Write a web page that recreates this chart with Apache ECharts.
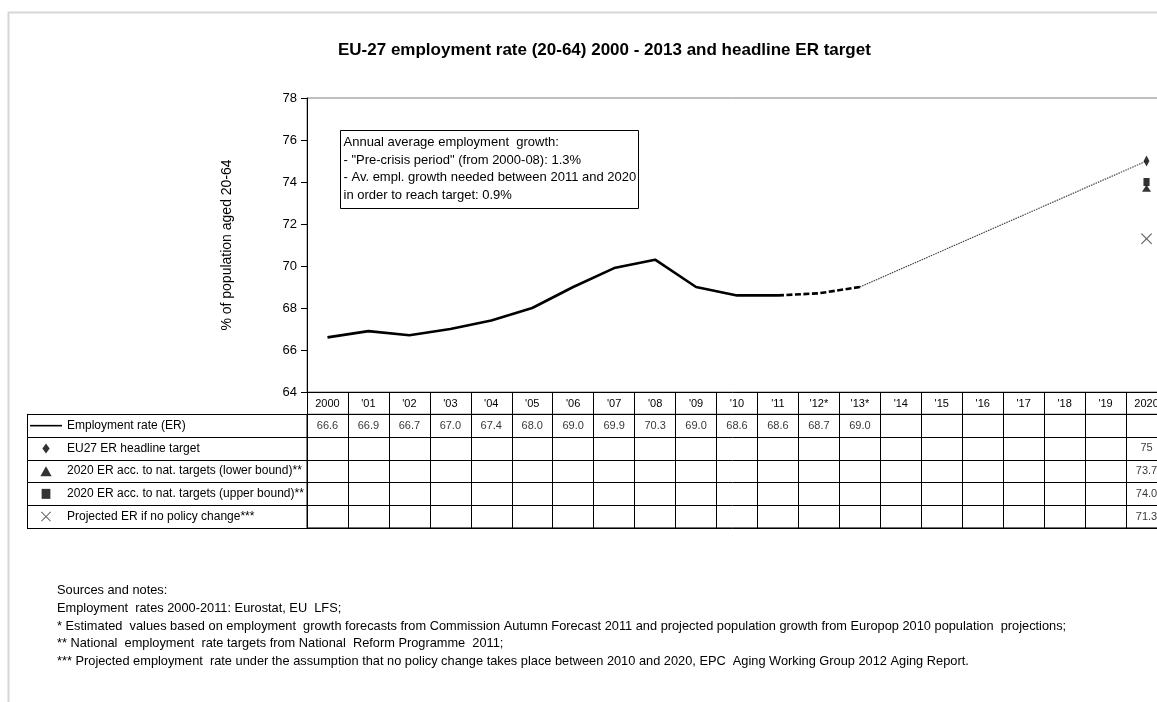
<!DOCTYPE html>
<html>
<head>
<meta charset="utf-8">
<script src="https://cdn.jsdelivr.net/npm/echarts@6/dist/echarts.min.js"></script>
<style>
  html, body { margin: 0; padding: 0; background: #fff; }
  #chart { width: 1157px; height: 702px; }
</style>
</head>
<body>
<div id="chart"></div>
<script>
// Year columns of the chart and of the data table
const years = ['2000', "'01", "'02", "'03", "'04", "'05", "'06", "'07", "'08", "'09", "'10",
               "'11", "'12*", "'13*", "'14", "'15", "'16", "'17", "'18", "'19", '2020'];

// Employment rate (20-64), 2000 to 2013 ('12 and '13 estimated)
const erValues = [66.6, 66.9, 66.7, 67.0, 67.4, 68.0, 69.0, 69.9, 70.3, 69.0, 68.6, 68.6, 68.7, 69.0];
const lastObservedIndex = 11;   // '11: last Eurostat value, later ones are estimates

// 2020 points
const headlineTarget = [75];
const natTargetsLower = [73.7];
const natTargetsUpper = [74.0];
const noPolicyChange = [71.3];

// Row labels of the data table
const rowNames = [
  'Employment rate (ER)',
  'EU27 ER headline target',
  '2020 ER acc. to nat. targets (lower bound)**',
  '2020 ER acc. to nat. targets (upper bound)**',
  'Projected ER if no policy change***'
];
const rowDecimals = [1, 0, 1, 1, 1];

// Y axis ticks
const yTicks = { min: 64, max: 78, step: 2 };

const notes = [
  'Sources and notes:',
  'Employment  rates 2000-2011: Eurostat, EU  LFS;',
  '* Estimated  values based on employment  growth forecasts from Commission Autumn Forecast 2011 and projected population growth from Europop 2010 population  projections;',
  '** National  employment  rate targets from National  Reform Programme  2011;',
  '*** Projected employment  rate under the assumption that no policy change takes place between 2010 and 2020, EPC  Aging Working Group 2012 Aging Report.'
];

const boxLines = [
  'Annual average employment  growth:',
  '- "Pre-crisis period" (from 2000-08): 1.3%',
  '- Av. empl. growth needed between 2011 and 2020',
  'in order to reach target: 0.9%'
];

const FONT = '"Liberation Sans", Arial, sans-serif';
const last = years.length - 1;

// Split the employment rate line into observed, estimated and path-to-target parts
const solidData = years.map((_, i) => (i <= lastObservedIndex && i < erValues.length) ? erValues[i] : null);
const dashedData = years.map((_, i) => (i >= lastObservedIndex && i < erValues.length) ? erValues[i] : null);
const dottedData = years.map((_, i) => i === erValues.length - 1 ? erValues[i] : (i === last ? headlineTarget[0] : null));

// Values shown in the table, one row per series
const tableRows = [
  erValues,
  years.map((_, i) => i === last ? headlineTarget[0] : null),
  years.map((_, i) => i === last ? natTargetsLower[0] : null),
  years.map((_, i) => i === last ? natTargetsUpper[0] : null),
  years.map((_, i) => i === last ? noPolicyChange[0] : null)
];
const tableCells = [];
tableRows.forEach((row, r) => {
  row.forEach((v, c) => {
    if (v !== null && v !== undefined) tableCells.push([c, r, v]);
  });
});

// Marker shapes as paths so they keep their proportions in the table key
const diamondPath = 'path://M4,0 L8,5.5 L4,11 L0,5.5 Z';
const trianglePath = 'path://M4.5,0 L9,8 L0,8 Z';
const squarePath = 'path://M0,0 L7,0 L7,8 L0,8 Z';
const crossPath = 'path://M0,0.7 L0.7,0 L5,4.3 L9.3,0 L10,0.7 L5.7,5 L10,9.3 L9.3,10 L5,5.7 L0.7,10 L0,9.3 L4.3,5 Z';
const keyLinePath = 'path://M0,0 L32,0 L32,1.6 L0,1.6 Z';

const rowH = 22.73;
const tableTop = 414.3;
const plotLeft = 307;
const plotWidth = 860;   // 21 columns, the last one runs past the page edge

const chart = echarts.init(document.getElementById('chart'), null, { renderer: 'canvas' });

chart.setOption({
  animation: false,
  backgroundColor: '#fff',
  textStyle: { fontFamily: FONT },
  title: {
    text: 'EU-27 employment rate (20-64) 2000 - 2013 and headline ER target',
    left: 333,
    top: 37,
    textStyle: { fontFamily: FONT, fontSize: 17, fontWeight: 'bold', color: '#000' }
  },
  legend: {
    orient: 'vertical',
    left: 30,
    top: tableTop + rowH / 2 - 7,
    padding: 0,
    itemWidth: 32,
    itemHeight: 10,
    itemGap: rowH - 14,
    selectedMode: false,
    symbolKeepAspect: true,
    textStyle: { fontFamily: FONT, fontSize: 12, lineHeight: 14, color: '#000' },
    data: [
      { name: rowNames[0], icon: keyLinePath, itemStyle: { color: '#000' } },
      { name: rowNames[1] },
      { name: rowNames[2] },
      { name: rowNames[3] },
      { name: rowNames[4] }
    ]
  },
  grid: [
    { left: plotLeft, width: plotWidth, top: 98, height: 294, outerBoundsMode: 'none', containLabel: false,
      show: true, borderColor: '#808080', borderWidth: 1 },
    { left: plotLeft, width: plotWidth, top: tableTop, height: rowH * 5, outerBoundsMode: 'none', containLabel: false,
      show: true, borderColor: '#000', borderWidth: 1 }
  ],
  xAxis: [
    {
      type: 'category', gridIndex: 0, data: years, boundaryGap: true,
      axisLine: { lineStyle: { color: '#000', width: 1 } },
      axisTick: { show: true, interval: 0, length: 22.3, lineStyle: { color: '#000', width: 1 } },
      axisLabel: { interval: 0, margin: 6, fontSize: 11, color: '#000', fontFamily: FONT },
      splitLine: { show: false }
    },
    {
      type: 'category', gridIndex: 1, data: years, boundaryGap: true,
      axisLine: { show: false }, axisTick: { show: false }, axisLabel: { show: false },
      splitLine: { show: true, interval: 0, lineStyle: { color: '#000', width: 1 } }
    }
  ],
  yAxis: [
    {
      type: 'value', gridIndex: 0, min: yTicks.min, max: yTicks.max, interval: yTicks.step,
      name: '% of population aged 20-64', nameLocation: 'middle', nameGap: 73, nameRotate: 90,
      nameTextStyle: { fontFamily: FONT, fontSize: 14, color: '#000' },
      axisLine: { show: true, lineStyle: { color: '#000', width: 1 } },
      axisTick: { show: true, length: 6, lineStyle: { color: '#000' } },
      axisLabel: { margin: 10, fontSize: 13, color: '#000', fontFamily: FONT },
      splitLine: { show: false }
    },
    {
      type: 'category', gridIndex: 1, data: rowNames, inverse: true, boundaryGap: true,
      axisLine: { show: true, lineStyle: { color: '#000', width: 1 } },
      axisTick: { show: true, interval: 0, length: 280, lineStyle: { color: '#000', width: 1 } },
      axisLabel: { show: false },
      splitLine: { show: true, interval: 0, lineStyle: { color: '#000', width: 1 } }
    },
    {
      type: 'category', gridIndex: 1, data: rowNames, inverse: true, position: 'left', offset: 280,
      axisLine: { show: true, lineStyle: { color: '#000', width: 1 } },
      axisTick: { show: false }, axisLabel: { show: false }, splitLine: { show: false }
    }
  ],
  series: [
    {
      name: rowNames[0], type: 'line', xAxisIndex: 0, yAxisIndex: 0, data: solidData,
      symbol: 'none', lineStyle: { color: '#000', width: 2.6 }, itemStyle: { color: '#000' }, z: 3
    },
    {
      name: 'estimates', type: 'line', xAxisIndex: 0, yAxisIndex: 0, data: dashedData,
      symbol: 'none', lineStyle: { color: '#000', width: 2.6, type: [6, 2.5] }, z: 3
    },
    {
      name: 'path to target', type: 'line', xAxisIndex: 0, yAxisIndex: 0, data: dottedData,
      connectNulls: true, symbol: 'none', lineStyle: { color: '#444', width: 1.2, type: [1.5, 1] }, z: 2
    },
    {
      name: rowNames[1], type: 'scatter', xAxisIndex: 0, yAxisIndex: 0,
      data: years.map((_, i) => i === last ? headlineTarget[0] : null),
      symbol: diamondPath, symbolSize: [8, 11], symbolKeepAspect: true, itemStyle: { color: '#000' }, z: 4
    },
    {
      name: rowNames[2], type: 'scatter', xAxisIndex: 0, yAxisIndex: 0,
      data: years.map((_, i) => i === last ? natTargetsLower[0] : null),
      symbol: trianglePath, symbolSize: [9, 8], symbolKeepAspect: true, itemStyle: { color: '#000' }, z: 4
    },
    {
      name: rowNames[3], type: 'scatter', xAxisIndex: 0, yAxisIndex: 0,
      data: years.map((_, i) => i === last ? natTargetsUpper[0] : null),
      symbol: squarePath, symbolSize: [7, 8], symbolKeepAspect: true, itemStyle: { color: '#000' }, z: 4
    },
    {
      name: rowNames[4], type: 'scatter', xAxisIndex: 0, yAxisIndex: 0,
      data: years.map((_, i) => i === last ? noPolicyChange[0] : null),
      symbol: crossPath, symbolSize: [11, 11], symbolKeepAspect: true, itemStyle: { color: '#333' }, z: 4
    },
    {
      name: 'table values', type: 'scatter', xAxisIndex: 1, yAxisIndex: 1,
      data: tableCells, symbolSize: 1, silent: true,
      itemStyle: { color: 'transparent' },
      label: {
        show: true, position: 'inside', fontSize: 11, color: '#000', fontFamily: FONT,
        formatter: p => p.value[2].toFixed(rowDecimals[p.value[1]])
      }
    }
  ],
  graphic: [
    {
      type: 'rect', silent: true,
      shape: { x: 8.5, y: 12.5, width: 1200, height: 720 },
      style: { fill: 'none', stroke: '#d6d6d6', lineWidth: 2 }
    },
    {
      type: 'group', x: 340.5, y: 130.5, silent: true,
      children: [
        { type: 'rect', shape: { x: 0, y: 0, width: 298, height: 78 },
          style: { fill: '#fff', stroke: '#000', lineWidth: 1 } },
        { type: 'text', x: 3, y: 3,
          style: { text: boxLines.join('\n'), fontFamily: FONT, fontSize: 13, lineHeight: 17.7, fill: '#000' } }
      ]
    },
    {
      type: 'text', x: 57, y: 582, silent: true,
      style: { text: notes.join('\n'), fontFamily: FONT, fontSize: 12.8, lineHeight: 17.6, fill: '#000' }
    }
  ]
});
</script>
</body>
</html>
